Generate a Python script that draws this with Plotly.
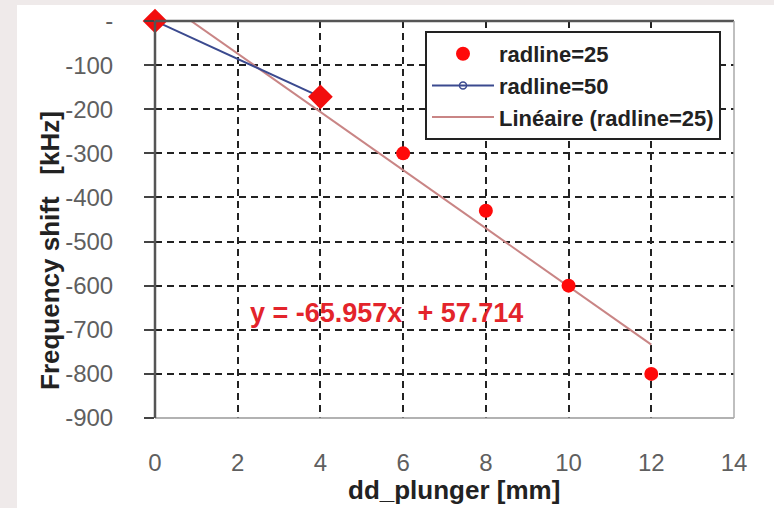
import plotly.graph_objects as go

# ---- data ----
x_r25 = [0, 4, 6, 8, 10, 12]
y_r25 = [0, -172, -300, -430, -600, -800]
x_r50 = [0, 4]
y_r50 = [0, -172]
trend_x = [0, 12]
trend_y = [57.714, -733.77]
x_ticks = [0, 2, 4, 6, 8, 10, 12, 14]
y_ticks = [0, -100, -200, -300, -400, -500, -600, -700, -800, -900]
y_ticktext = ["-", "-100", "-200", "-300", "-400", "-500", "-600", "-700", "-800", "-900"]
equation = "y = -65.957x  + 57.714"

W, H = 774, 508
L, R, T, B = 155, 734, 21, 418


def px(x):
    return (x - L) / (R - L)


def py(y):
    return (B - y) / (B - T)


fig = go.Figure()
fig.add_trace(go.Scatter(
    x=trend_x, y=trend_y, mode="lines", name="Linéaire (radline=25)",
    line=dict(color="#c98585", width=2), legendrank=3, legendgroup="c"))
fig.add_trace(go.Scatter(
    x=x_r25, y=y_r25, mode="markers", name="radline=25", cliponaxis=False,
    marker=dict(color="#ff0a0a", size=14, symbol="circle"), legendrank=1, legendgroup="a"))
fig.add_trace(go.Scatter(
    x=x_r50, y=y_r50, mode="lines+markers", name="radline=50",
    line=dict(color="#3b4a8f", width=2),
    marker=dict(color="#3b4a8f", size=7, symbol="circle-open", line=dict(width=1.5)),
    legendrank=2, legendgroup="b"))
fig.add_trace(go.Scatter(
    x=x_r50, y=y_r50, mode="markers", showlegend=False, cliponaxis=False,
    marker=dict(color="#f20d0d", size=19, symbol="diamond")))

fig.update_layout(
    width=W, height=H,
    margin=dict(l=L, r=W - R, t=T, b=H - B, autoexpand=False),
    paper_bgcolor="#efeaea", plot_bgcolor="white",
    font=dict(family="Liberation Sans, Arial", color="#666"),
    showlegend=True,
    legend=dict(
        x=px(425), y=py(31), xanchor="left", yanchor="top",
        bgcolor="white", bordercolor="#222", borderwidth=2,
        font=dict(size=22, color="#222", family="Liberation Sans, Arial", weight="bold"),
        itemwidth=62, tracegroupgap=0, traceorder="grouped",
    ),
    xaxis=dict(
        range=[0, 14], tickvals=x_ticks, showgrid=True, automargin=False,
        gridcolor="#222", griddash="7px,5px", gridwidth=1.5,
        ticks="", tickfont=dict(size=24, color="#5f5f5f"),
        ticklabelstandoff=28, zeroline=False, showline=False,
    ),
    yaxis=dict(
        range=[-900, 0], tickvals=y_ticks, ticktext=y_ticktext, showgrid=True, automargin=False,
        gridcolor="#222", griddash="7px,5px", gridwidth=1.5,
        ticks="outside", ticklen=10, tickcolor="#444", tickwidth=1.5,
        tickfont=dict(size=24, color="#5f5f5f"),
        ticklabelstandoff=26, zeroline=False, showline=False,
    ),
    shapes=[
        dict(type="rect", xref="paper", yref="paper", x0=px(17), x1=px(774), y0=py(508), y1=py(5),
             fillcolor="white", line=dict(width=0), layer="below"),
        dict(type="line", xref="paper", yref="paper", x0=0, x1=1, y0=0, y1=0,
             line=dict(color="#999", width=1.5)),
        dict(type="line", xref="paper", yref="paper", x0=0, x1=1, y0=1, y1=1,
             line=dict(color="#555", width=2.5)),
        dict(type="line", xref="paper", yref="paper", x0=1, x1=1, y0=0, y1=1,
             line=dict(color="#aaa", width=1.5)),
        dict(type="line", xref="paper", yref="paper", x0=0, x1=0, y0=0, y1=1,
             line=dict(color="#555", width=2.5)),
    ],
    annotations=[
        dict(text=equation, xref="paper", yref="paper", x=px(248), y=py(313),
             xanchor="left", yanchor="middle", showarrow=False,
             font=dict(size=27, color="#e3242b", family="Liberation Sans, Arial", weight="bold")),
        dict(text="dd_plunger [mm]", xref="paper", yref="paper", x=px(454), y=py(490),
             xanchor="center", yanchor="middle", showarrow=False,
             font=dict(size=26, color="#222", family="Liberation Sans, Arial", weight="bold")),
        dict(text="Frequency shift   [kHz]", xref="paper", yref="paper", x=px(50), y=py(251),
             xanchor="center", yanchor="middle", showarrow=False, textangle=-90,
             font=dict(size=26, color="#222", family="Liberation Sans, Arial", weight="bold")),
    ],
)

fig.write_html("out.html", config={"displayModeBar": False})

# remove the default page margin so the figure fills the window exactly
with open("out.html", "r", encoding="utf-8") as f:
    html = f.read()
html = html.replace("<head>", "<head><style>html,body{margin:0;padding:0;overflow:hidden;}</style>", 1)
with open("out.html", "w", encoding="utf-8") as f:
    f.write(html)
